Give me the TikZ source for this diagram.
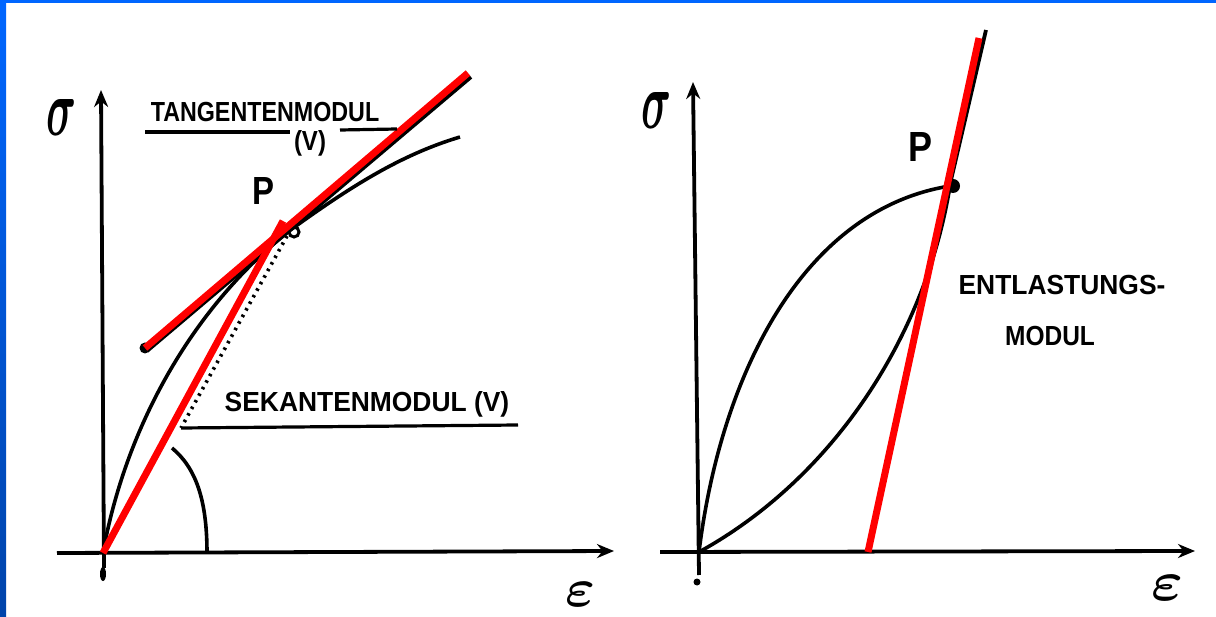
\documentclass[tikz,border=0pt]{standalone}
\usepackage{amsmath}
\usepackage{fontspec}
\setmainfont{Liberation Sans}
\usetikzlibrary{arrows.meta}
\definecolor{frameblue}{HTML}{0066FF}
\definecolor{frameblueD}{HTML}{0044AA}
\definecolor{modred}{HTML}{FF0000}
\tikzset{
  axisline/.style={line width=3.8pt,-{Stealth[length=17pt,width=14pt]}},
  curveline/.style={line width=3.6pt},
  redline/.style={line width=7pt,modred},
  hand/.style={font=\fontsize{24}{26}\selectfont\bfseries,inner sep=0pt},
  uline/.style={line width=3.2pt},
}
\begin{document}
\begin{tikzpicture}[x=1pt,y=-1pt]
\fill[white] (0,0) rectangle (1216,617);
\useasboundingbox (0,0) rectangle (1216,617);
\shade[top color=frameblue,bottom color=frameblueD] (0,0) rectangle (6,617);
\fill[frameblue] (0,0) rectangle (1216,3);

% ---------- left diagram ----------
\coordinate (O1) at (103,553);
\coordinate (Y1b) at (104,568);
\coordinate (Y1t) at (101,90);
\coordinate (X1l) at (57,553);
\coordinate (X1r) at (614,551);
\coordinate (P1) at (289,231);
\coordinate (C1e) at (460,137);
\coordinate (T1a) at (145,348);
\coordinate (T1b) at (468,73);
\coordinate (S1b) at (283,221);
\coordinate (D1a) at (287,236);
\coordinate (D1b) at (181,428);
\coordinate (A1a) at (207,553);
\coordinate (A1b) at (172,448);

\draw[axisline] (Y1b) -- (Y1t);
\draw[axisline] (X1l) -- (X1r);
\fill (103,574) ellipse (3pt and 7pt);
\draw[curveline] (O1) .. controls (125,430) and (190,310) .. (P1)
                 .. controls (350,187) and (400,155) .. (C1e);
\draw[line width=3.6pt,dash pattern=on 2.5pt off 5pt] (D1a) -- (D1b);
\draw[curveline] (A1a) .. controls (207,500) and (196,468) .. (A1b);
\draw[line width=3pt] (P1) ++(5,1) circle (5);
\draw[line width=3.8pt] (147,351) -- (471,77);
\fill (T1a) circle (5.5);
\draw[redline] (T1a) -- (T1b);
\draw[redline] (O1) -- (S1b);

\node (sig1) at (62,117) {\resizebox{30pt}{36pt}{$\boldsymbol{\sigma}$}};
\node (eps1) at (580,594) {\resizebox{30pt}{24pt}{$\boldsymbol{\varepsilon}$}};
\node (P1l) at (263,191) {\resizebox{22pt}{27pt}{\bfseries P}};
\node[hand] (tan) at (265,112) {\scalebox{0.97}[1.15]{TANGENTENMODUL}};
\node[hand] (tanv) at (310,143) {\scalebox{1}[1.15]{(V)}};
\draw[uline] (145,132) -- (290,132);
\draw[uline] (340,130) -- (397,129);
\node[hand] (sek) at (367,404) {\scalebox{1.1}[1.15]{SEKANTENMODUL (V)}};
\draw[uline] (D1b) -- (518,425);

% ---------- right diagram ----------
\coordinate (O2) at (699,552);
\coordinate (Y2b) at (699,575);
\coordinate (Y2t) at (693,82);
\coordinate (X2l) at (660,552);
\coordinate (X2r) at (1195,551);
\coordinate (P2) at (950,186);
\coordinate (R2a) at (868,552);
\coordinate (R2b) at (979,38);

\draw[axisline] (Y2b) -- (Y2t);
\draw[axisline] (X2l) -- (X2r);
\fill (697,582) circle (3.5);
\draw[curveline] (O2) .. controls (720,380) and (800,210) .. (P2);
\draw[curveline] (P2) .. controls (925,340) and (830,480) .. (O2);
\draw[line width=3.8pt] (930,270) -- (986,30);
\fill (953,186) circle (7);
\draw[redline] (R2a) -- (R2b);

\node (sig2) at (656,110) {\resizebox{30pt}{36pt}{$\boldsymbol{\sigma}$}};
\node (eps2) at (1167,588) {\resizebox{32pt}{25pt}{$\boldsymbol{\varepsilon}$}};
\node (P2l) at (920,147) {\resizebox{24pt}{29pt}{\bfseries P}};
\node[hand] (ent) at (1062,285) {\scalebox{1.1}[1.15]{ENTLASTUNGS-}};
\node[hand] (mod) at (1050,336) {\scalebox{1.02}[1.15]{MODUL}};
\end{tikzpicture}
\end{document}
